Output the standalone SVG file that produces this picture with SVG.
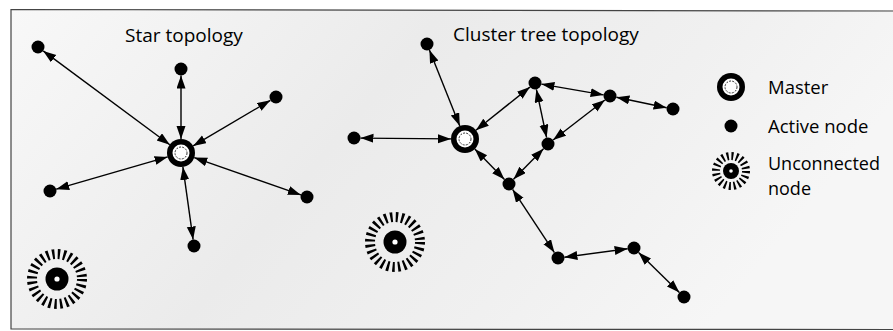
<svg xmlns="http://www.w3.org/2000/svg" width="893" height="331" viewBox="0 0 893 331">
  <defs>
    <linearGradient id="paper" x1="0" y1="0" x2="1" y2="0.3">
      <stop offset="0" stop-color="#f8f8f8"/>
      <stop offset="0.45" stop-color="#ebebeb"/>
      <stop offset="0.75" stop-color="#f0f0f0"/>
      <stop offset="1" stop-color="#f6f6f6"/>
    </linearGradient>
    <marker id="tip" markerUnits="userSpaceOnUse" markerWidth="15" markerHeight="10" refX="13" refY="4.5" orient="auto-start-reverse">
      <path d="M0,0 L13,4.5 L0,9 z" fill="#000"/>
    </marker>
    <!-- symbol shapes -->
    <g id="master-sym">
      <circle r="14" fill="#000"/>
      <circle r="8.5" fill="#fff"/>
      <circle r="6" fill="none" stroke="#333" stroke-width="1" stroke-dasharray="2 1.2"/>
    </g>
    <g id="unconn-big">
      <circle r="25" fill="none" stroke="#000" stroke-width="10" stroke-dasharray="2.4 3.21"/>
      <circle r="11.5" fill="#000"/>
      <circle r="2.6" fill="#fff"/>
    </g>
    <g id="unconn-small">
      <circle r="15" fill="none" stroke="#000" stroke-width="8" stroke-dasharray="2 2.71"/>
      <circle r="8" fill="#000"/>
      <circle r="1.8" fill="#fff"/>
    </g>
  </defs>
  <style>
    .lnk { stroke: #000; stroke-width: 1.4; fill: none; marker-start: url(#tip); marker-end: url(#tip); }
    .act { fill: #000; }
    .lbl { font-family: "Open Sans", "Noto Sans", "Liberation Sans", sans-serif; font-size: 18.5px; fill: #000; }
    .ttl { font-family: "Open Sans", "Noto Sans", "Liberation Sans", sans-serif; font-size: 19px; fill: #000; }
  </style>

  <!-- paper and frame -->
  <rect x="0" y="0" width="893" height="331" fill="#fff"/>
  <rect x="11" y="10" width="882" height="319" fill="url(#paper)"/>
  <path d="M893,11 L11,9.5 L11,329 L893,329.5" fill="none" stroke="#444" stroke-width="1.2"/>

  <!-- titles -->
  <text class="ttl" x="125" y="42">Star topology</text>
  <text class="ttl" x="453" y="41">Cluster tree topology</text>

  <!-- connectors -->
  <g id="connectors">
    <!-- star -->
    <line class="lnk" x1="169.8" y1="144.7" x2="43.2" y2="50.9"/>
    <line class="lnk" x1="181" y1="139" x2="181" y2="75.5"/>
    <line class="lnk" x1="193.1" y1="145.9" x2="270.4" y2="100.3"/>
    <line class="lnk" x1="167.6" y1="156.9" x2="56.2" y2="189.2"/>
    <line class="lnk" x1="182.9" y1="166.9" x2="193.1" y2="239.6"/>
    <line class="lnk" x1="194.2" y1="157.6" x2="300.9" y2="194.9"/>
    <!-- cluster tree -->
    <line class="lnk" x1="459.8" y1="126" x2="429.4" y2="50"/>
    <line class="lnk" x1="451" y1="138.9" x2="360.5" y2="138.1"/>
    <line class="lnk" x1="475.9" y1="130.3" x2="529.9" y2="87.1"/>
    <line class="lnk" x1="474.8" y1="149" x2="504.5" y2="179.4"/>
    <line class="lnk" x1="536.4" y1="89.4" x2="546.6" y2="137.6"/>
    <line class="lnk" x1="541.4" y1="84.1" x2="603.6" y2="94.9"/>
    <line class="lnk" x1="616.4" y1="97.3" x2="666.6" y2="107.7"/>
    <line class="lnk" x1="604.9" y1="100" x2="553.1" y2="140"/>
    <line class="lnk" x1="543.5" y1="148.7" x2="513.5" y2="179.3"/>
    <line class="lnk" x1="512.6" y1="189.4" x2="554.4" y2="252.6"/>
    <line class="lnk" x1="564.4" y1="257.2" x2="627.6" y2="248.8"/>
    <line class="lnk" x1="638.6" y1="252.5" x2="679.4" y2="292.5"/>
  </g>

  <!-- star topology nodes -->
  <g id="star-master"><use href="#master-sym" x="181" y="153"/></g>
  <g id="star-n1"><circle class="act" cx="38" cy="47" r="6.5"/></g>
  <g id="star-n2"><circle class="act" cx="181" cy="69" r="6.5"/></g>
  <g id="star-n3"><circle class="act" cx="276" cy="97" r="6.5"/></g>
  <g id="star-n4"><circle class="act" cx="50" cy="191" r="6.5"/></g>
  <g id="star-n5"><circle class="act" cx="194" cy="246" r="6.5"/></g>
  <g id="star-n6"><circle class="act" cx="307" cy="197" r="6.5"/></g>
  <g id="star-unconnected"><use href="#unconn-big" x="57" y="279"/></g>

  <!-- cluster tree nodes -->
  <g id="tree-master"><use href="#master-sym" x="465" y="139"/></g>
  <g id="tree-top"><circle class="act" cx="427" cy="44" r="6.5"/></g>
  <g id="tree-left"><circle class="act" cx="354" cy="138" r="6.5"/></g>
  <g id="tree-a"><circle class="act" cx="535" cy="83" r="6.5"/></g>
  <g id="tree-b"><circle class="act" cx="548" cy="144" r="6.5"/></g>
  <g id="tree-c"><circle class="act" cx="509" cy="184" r="6.5"/></g>
  <g id="tree-d"><circle class="act" cx="558" cy="258" r="6.5"/></g>
  <g id="tree-e"><circle class="act" cx="610" cy="96" r="6.5"/></g>
  <g id="tree-f"><circle class="act" cx="673" cy="109" r="6.5"/></g>
  <g id="tree-g"><circle class="act" cx="634" cy="248" r="6.5"/></g>
  <g id="tree-h"><circle class="act" cx="684" cy="297" r="6.5"/></g>
  <g id="tree-unconnected"><use href="#unconn-big" x="395" y="242"/></g>

  <!-- legend -->
  <g id="legend-master">
    <use href="#master-sym" x="731" y="87"/>
    <text class="lbl" x="768" y="94">Master</text>
  </g>
  <g id="legend-active">
    <circle class="act" cx="731" cy="126" r="6.5"/>
    <text class="lbl" x="768" y="133">Active node</text>
  </g>
  <g id="legend-unconnected">
    <use href="#unconn-small" x="731" y="171"/>
    <text class="lbl" x="768" y="170" style="font-size:18px">Unconnected<tspan x="768" dy="24.6">node</tspan></text>
  </g>
</svg>
